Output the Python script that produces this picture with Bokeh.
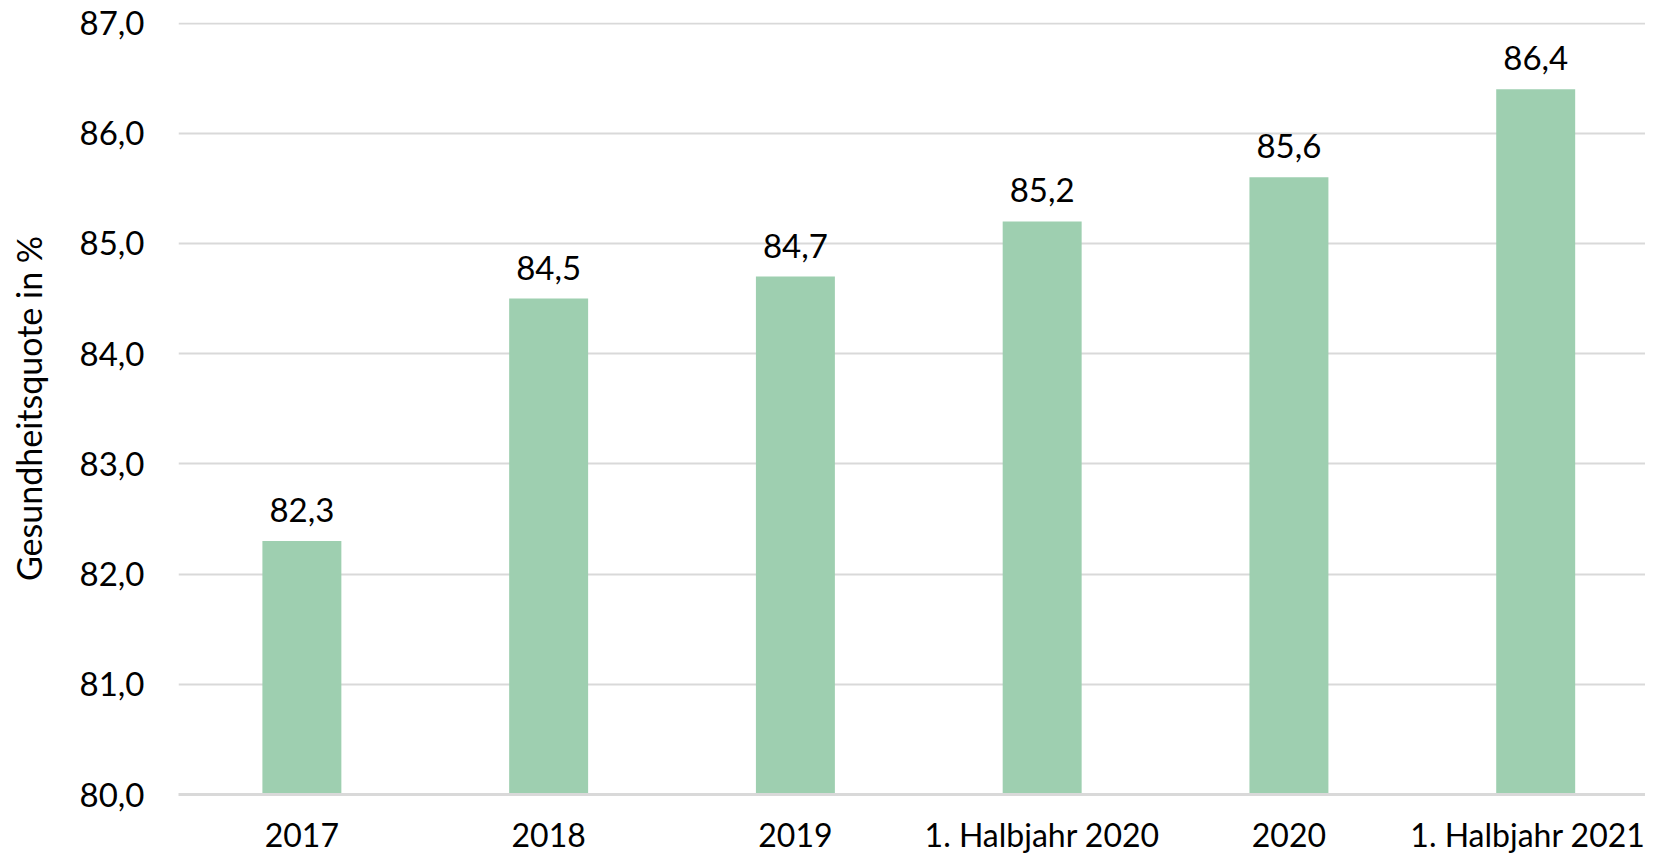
from bokeh.plotting import figure
from bokeh.models import FixedTicker, ColumnDataSource
from bokeh.core.properties import value
from bokeh.embed import file_html
from bokeh.resources import INLINE

categories = ["2017", "2018", "2019", "1. Halbjahr 2020", "2020", "1. Halbjahr 2021"]
values = [82.3, 84.5, 84.7, 85.2, 85.6, 86.4]
y_ticks = [80, 81, 82, 83, 84, 85, 86, 87]
y_tick_labels = ["80,0", "81,0", "82,0", "83,0", "84,0", "85,0", "86,0", "87,0"]
value_labels = ["82,3", "84,5", "84,7", "85,2", "85,6", "86,4"]

FONT = "Lato"
x_idx = list(range(len(categories)))
src = ColumnDataSource(dict(x=x_idx, top=values, lab=value_labels))

p = figure(width=1645, height=858, output_backend="svg", toolbar_location=None,
           x_range=(-0.5, 5.445), y_range=(80, 87.005),
           min_border_left=178, min_border_right=0, min_border_top=22, min_border_bottom=64)
p.outline_line_color = None
p.background_fill_color = "white"
p.border_fill_color = "white"

p.vbar(x="x", top="top", bottom=80, width=0.32, source=src,
       fill_color="#9ECFB0", line_color=None)

p.text(x="x", y="top", text="lab", source=src, text_align="center", text_baseline="middle",
       y_offset=-31, text_font=value(FONT), text_font_size="33px", text_color="#000000")

# y axis
p.yaxis.ticker = FixedTicker(ticks=y_ticks)
p.yaxis.major_label_overrides = {t: l for t, l in zip(y_ticks, y_tick_labels)}
p.yaxis.axis_line_color = None
p.yaxis.major_tick_line_color = None
p.yaxis.minor_tick_line_color = None
p.yaxis.major_label_text_font = FONT
p.yaxis.major_label_text_font_size = "33px"
p.yaxis.major_label_text_color = "#000000"
p.yaxis.major_label_standoff = 28
p.yaxis.axis_label = "Gesundheitsquote in %"
p.yaxis.axis_label_text_font = FONT
p.yaxis.axis_label_text_font_size = "34px"
p.yaxis.axis_label_text_font_style = "normal"
p.yaxis.axis_label_text_color = "#000000"
p.yaxis.axis_label_standoff = 28

# x axis
p.xaxis.ticker = FixedTicker(ticks=x_idx)
p.xaxis.major_label_overrides = {i: c for i, c in zip(x_idx, categories)}
p.xaxis.axis_line_color = "#D9D9D9"
p.xaxis.axis_line_width = 3
p.xaxis.major_tick_line_color = None
p.xaxis.minor_tick_line_color = None
p.xaxis.major_label_text_font = FONT
p.xaxis.major_label_text_font_size = "32px"
p.xaxis.major_label_text_color = "#000000"
p.xaxis.major_label_standoff = 14

p.xgrid.grid_line_color = None
p.ygrid.grid_line_color = "#D9D9D9"
p.ygrid.grid_line_width = 2

open("out.html", "w").write(file_html(p, INLINE))
